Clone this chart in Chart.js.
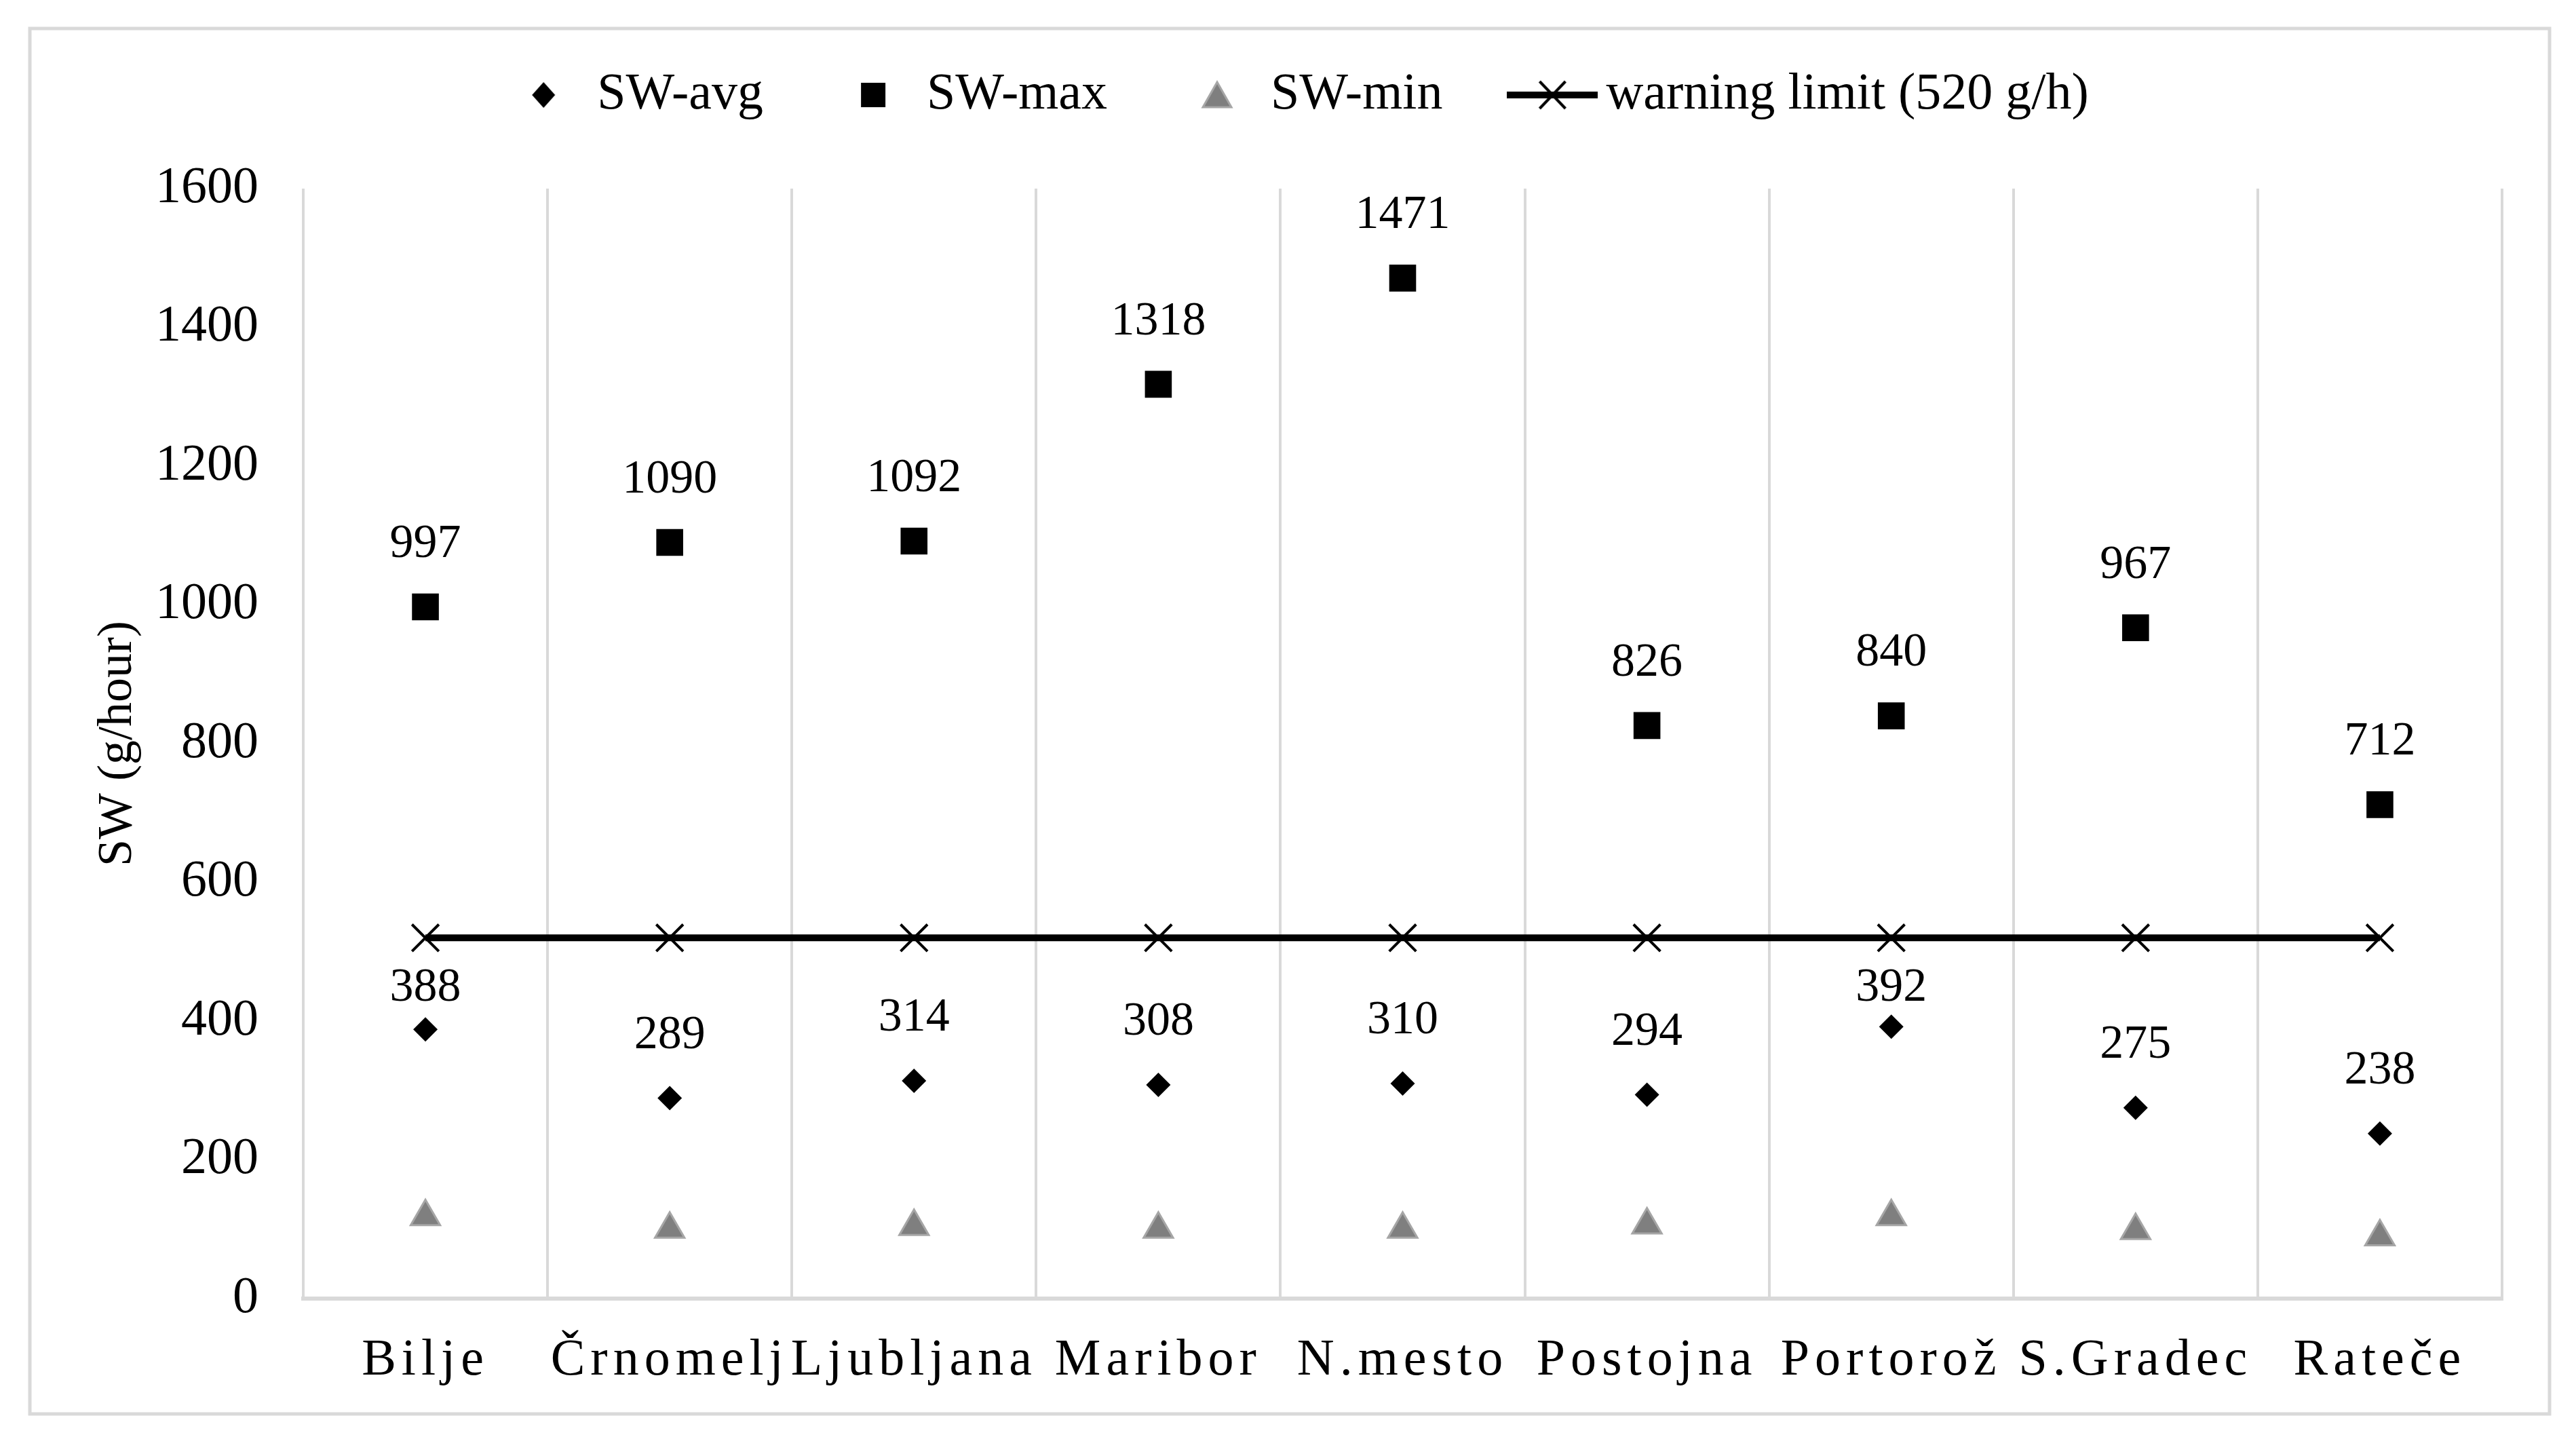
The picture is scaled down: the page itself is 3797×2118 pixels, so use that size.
<!DOCTYPE html>
<html>
<head>
<meta charset="utf-8">
<script src="https://cdn.jsdelivr.net/npm/chart.js@4.4.1/dist/chart.umd.min.js"></script>
<style>
  html, body { margin: 0; padding: 0; background: #ffffff; overflow: hidden; }
  #wrap { position: relative; width: 3797px; height: 2118px; }
</style>
</head>
<body>
<div id="wrap"><canvas id="chart"></canvas></div>
<script>
// ---- data ----
const categories = ['Bilje', 'Črnomelj', 'Ljubljana', 'Maribor', 'N.mesto', 'Postojna', 'Portorož', 'S.Gradec', 'Rateče'];
const swAvg = [388, 289, 314, 308, 310, 294, 392, 275, 238];
const swMax = [997, 1090, 1092, 1318, 1471, 826, 840, 967, 712];
const swMin = [118, 100, 104, 100, 100, 106, 118, 98, 89];
const warningLimit = [520, 520, 520, 520, 520, 520, 520, 520, 520];
const seriesNames = ['SW-avg', 'SW-max', 'SW-min', 'warning limit (520 g/h)'];
const yAxisTitle = 'SW (g/hour)';
const yMin = 0, yMax = 1600, yStep = 200;

// ---- styles ----
const FONT = '"Liberation Serif", "Times New Roman", serif';
const GRID = '#d9d9d9';
const TRI_FILL = '#7f7f7f';
const TRI_BORDER = '#a6a6a6';
const LABEL_OFFSET = 92;
const X_LETTER_SPACING = '8px';

// legend icons drawn on small canvases
function makeIcon(w, h, drawFn) {
  const c = document.createElement('canvas');
  c.width = w; c.height = h;
  const g = c.getContext('2d');
  drawFn(g, w, h);
  return c;
}
const legendIcons = [
  makeIcon(40, 40, (g, w, h) => {
    g.fillStyle = '#000';
    g.beginPath(); g.moveTo(w/2 - 17, h/2); g.lineTo(w/2, h/2 - 19); g.lineTo(w/2 + 17, h/2); g.lineTo(w/2, h/2 + 19); g.closePath(); g.fill();
  }),
  makeIcon(40, 40, (g, w, h) => { g.fillStyle = '#000'; g.fillRect(w/2 - 18, h/2 - 18, 36, 36); }),
  makeIcon(48, 44, (g, w, h) => {
    g.fillStyle = TRI_FILL; g.strokeStyle = TRI_BORDER; g.lineWidth = 3;
    g.beginPath(); g.moveTo(w/2, h/2 - 19); g.lineTo(w/2 + 21, h/2 + 18); g.lineTo(w/2 - 21, h/2 + 18); g.closePath(); g.fill(); g.stroke();
  }),
  makeIcon(134, 44, (g, w, h) => {
    g.strokeStyle = '#000'; g.lineWidth = 10;
    g.beginPath(); g.moveTo(0, h/2); g.lineTo(w, h/2); g.stroke();
    g.lineWidth = 4;
    g.beginPath(); g.moveTo(w/2 - 19, h/2 - 20); g.lineTo(w/2 + 19, h/2 + 20); g.moveTo(w/2 + 19, h/2 - 20); g.lineTo(w/2 - 19, h/2 + 20); g.stroke();
  })
];

// outer frame
const framePlugin = {
  id: 'frame',
  beforeDraw(chart) {
    const ctx = chart.ctx;
    ctx.save();
    ctx.fillStyle = '#ffffff';
    ctx.fillRect(0, 0, chart.width, chart.height);
    ctx.strokeStyle = GRID;
    ctx.lineWidth = 5;
    ctx.strokeRect(44, 42, 3714, 2042);
    ctx.restore();
  }
};

// letter spacing for category labels
const letterSpacingPlugin = {
  id: 'xLetterSpacing',
  beforeDraw(chart) {
    const sc = chart.scales.x;
    if (sc && !sc._lsPatched) {
      const orig = sc.drawLabels;
      sc.drawLabels = function (area) {
        const ctx = this.ctx;
        ctx.save();
        try { ctx.letterSpacing = X_LETTER_SPACING; } catch (e) {}
        orig.call(this, area);
        ctx.restore();
      };
      sc._lsPatched = true;
    }
  }
};

// value labels above points
const valueLabelPlugin = {
  id: 'valueLabels',
  afterDatasetsDraw(chart) {
    const ctx = chart.ctx;
    const yScale = chart.scales.y;
    const limitY = yScale.getPixelForValue(warningLimit[0]);
    ctx.save();
    ctx.font = '70px ' + FONT;
    ctx.fillStyle = '#000';
    ctx.textAlign = 'center';
    ctx.textBaseline = 'middle';
    chart.data.datasets.forEach((ds, di) => {
      if (!ds.showValues) return;
      const meta = chart.getDatasetMeta(di);
      meta.data.forEach((pt, i) => {
        let y = pt.y - LABEL_OFFSET;
        const top = y - 24;
        if (top < limitY + 40 && y + 24 > limitY - 40) {
          y = limitY + 74;
        }
        ctx.fillText(String(ds.data[i]), pt.x, y);
      });
    });
    ctx.restore();
  }
};

const ctx = document.getElementById('chart').getContext('2d');
new Chart(ctx, {
  type: 'line',
  data: {
    labels: categories,
    datasets: [
      {
        label: seriesNames[0], data: swAvg, showLine: false, showValues: true,
        pointStyle: 'rectRot', pointRadius: 18, pointHoverRadius: 18,
        pointBackgroundColor: '#000', pointBorderColor: '#000', pointBorderWidth: 0,
        borderColor: '#000', backgroundColor: '#000'
      },
      {
        label: seriesNames[1], data: swMax, showLine: false, showValues: true,
        pointStyle: 'rect', pointRadius: 28, pointHoverRadius: 28,
        pointBackgroundColor: '#000', pointBorderColor: '#000', pointBorderWidth: 0,
        borderColor: '#000', backgroundColor: '#000'
      },
      {
        label: seriesNames[2], data: swMin, showLine: false,
        pointStyle: 'triangle', pointRadius: 25, pointHoverRadius: 25,
        pointBackgroundColor: TRI_FILL, pointBorderColor: TRI_BORDER, pointBorderWidth: 3,
        borderColor: TRI_FILL, backgroundColor: TRI_FILL
      },
      {
        label: seriesNames[3], data: warningLimit, showLine: true,
        borderColor: '#000', borderWidth: 10, tension: 0,
        pointStyle: 'crossRot', pointRadius: 28, pointHoverRadius: 28,
        pointBorderColor: '#000', pointBorderWidth: 4, pointBackgroundColor: '#000'
      }
    ]
  },
  options: {
    responsive: true,
    maintainAspectRatio: false,
    animation: false,
    events: [],
    layout: { padding: { left: 151, right: 109, top: -19, bottom: 0 } },
    plugins: {
      tooltip: { enabled: false },
      title: { display: false },
      subtitle: {
        display: true, text: '', position: 'top', weight: 500,
        font: { family: FONT, size: 10, lineHeight: 1 },
        padding: { top: 80, bottom: 0 }
      },
      legend: {
        display: true,
        position: 'top',
        labels: {
          usePointStyle: true,
          pointStyleWidth: 82,
          boxHeight: 40,
          padding: 121,
          color: '#000',
          font: { family: FONT, size: 76 },
          generateLabels(chart) {
            return chart.data.datasets.map((ds, i) => ({
              text: ds.label,
              pointStyle: legendIcons[i],
              fillStyle: '#000',
              strokeStyle: '#000',
              lineWidth: 0,
              hidden: false,
              datasetIndex: i,
              fontColor: '#000'
            }));
          }
        }
      }
    },
    scales: {
      x: {
        type: 'category',
        offset: true,
        grid: { display: true, offset: true, color: GRID, lineWidth: 4, drawTicks: false },
        border: { display: true, color: GRID, width: 6 },
        ticks: {
          color: '#000', font: { family: FONT, size: 76 }, padding: 46,
          autoSkip: false, maxRotation: 0, minRotation: 0
        },
        afterFit(scale) { scale.height = 204; }
      },
      y: {
        min: yMin, max: yMax,
        grid: { display: false, drawTicks: false },
        border: { display: false },
        ticks: {
          stepSize: yStep, color: '#000', font: { family: FONT, size: 76 }, padding: 66,
          callback: (v) => String(v)
        },
        title: {
          display: true, text: yAxisTitle, color: '#000',
          font: { family: FONT, size: 72 }, padding: { top: -20, bottom: 0 }
        },
        afterFit(scale) { scale.width = 296; }
      }
    }
  },
  plugins: [framePlugin, letterSpacingPlugin, valueLabelPlugin]
});
</script>
</body>
</html>
